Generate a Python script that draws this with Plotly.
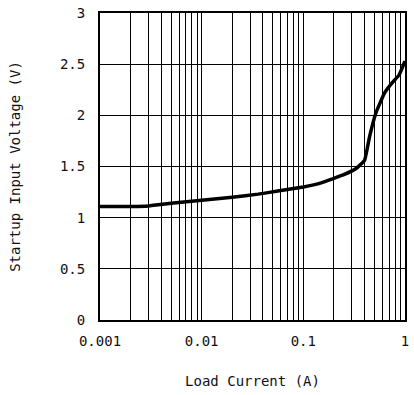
import plotly.graph_objects as go

load_current = [0.001, 0.002, 0.003, 0.005, 0.01, 0.02, 0.036, 0.056, 0.1, 0.15,
                0.25, 0.33, 0.40, 0.45, 0.52, 0.63, 0.75, 0.87, 1.0]
startup_voltage = [1.11, 1.11, 1.115, 1.14, 1.17, 1.2, 1.23, 1.26, 1.3, 1.34,
                   1.42, 1.48, 1.56, 1.8, 2.03, 2.22, 2.32, 2.39, 2.53]

x_major = [0.001, 0.01, 0.1, 1]
x_major_labels = ["0.001", "0.01", "0.1", "1"]
y_ticks = [0, 0.5, 1, 1.5, 2, 2.5, 3]
y_tick_labels = ["0", "0.5", "1", "1.5", "2", "2.5", "3"]

# grid positions on the log axis: 1..9 x each decade
x_grid = []
x_grid_text = []
for d in [0.001, 0.01, 0.1]:
    for m in range(1, 10):
        v = round(d * m, 6)
        x_grid.append(v)
        x_grid_text.append(x_major_labels[x_major.index(d)] if m == 1 else "")
x_grid.append(1)
x_grid_text.append("1")

font = dict(family="DejaVu Sans Mono", size=14, color="#111111")

fig = go.Figure()
fig.add_trace(go.Scatter(x=load_current, y=startup_voltage, mode="lines",
                         line=dict(color="black", width=3.5, shape="spline", smoothing=0.3),
                         showlegend=False, hoverinfo="skip"))

fig.update_layout(
    width=414, height=395,
    margin=dict(l=100, r=5, t=9, b=75),
    paper_bgcolor="white", plot_bgcolor="white",
    font=font,
    xaxis=dict(type="log", range=[-3, 0], tickvals=x_grid, ticktext=x_grid_text,
               showgrid=True, gridcolor="black", gridwidth=1.3,
               showline=True, linecolor="black", linewidth=2, mirror=True,
               ticks="", ticklabelstandoff=7, zeroline=False,
               title=dict(text="Load Current (A)", standoff=28, font=font)),
    yaxis=dict(range=[0, 3], tickvals=y_ticks, ticktext=y_tick_labels,
               showgrid=True, gridcolor="black", gridwidth=1.3,
               showline=True, linecolor="black", linewidth=2, mirror=True,
               ticks="", ticklabelstandoff=10, zeroline=False,
               title=dict(text="Startup Input Voltage (V)", standoff=36, font=font)),
)

fig.write_html("out.html")
